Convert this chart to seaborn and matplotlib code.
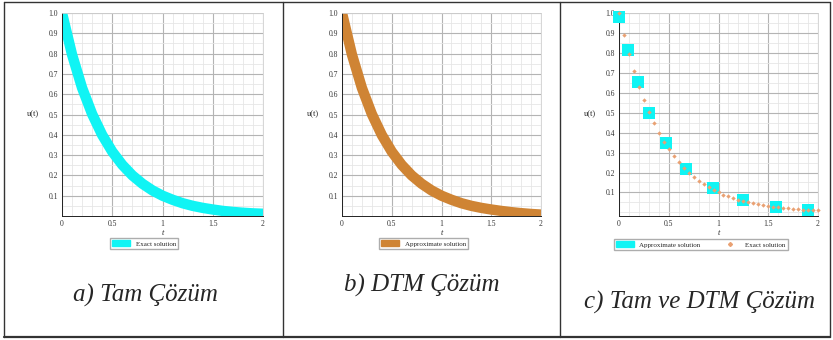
import numpy as np
import pandas as pd
import seaborn as sns
import matplotlib.pyplot as plt
from matplotlib.lines import Line2D
from matplotlib.patches import Patch
from matplotlib.ticker import MultipleLocator

sns.set_style("white")
plt.rcParams['font.family'] = ['Liberation Serif', 'DejaVu Serif']

# ---- data ----
t_curve = [0.0, 0.1, 0.2, 0.3, 0.4, 0.5, 0.6, 0.7, 0.8, 0.9, 1.0,
           1.1, 1.2, 1.3, 1.4, 1.5, 1.6, 1.7, 1.8, 1.9, 2.0]
u_exact = [1.000, 0.795, 0.631, 0.502, 0.399, 0.317, 0.252, 0.200, 0.159, 0.126, 0.100,
           0.080, 0.063, 0.050, 0.040, 0.032, 0.025, 0.020, 0.016, 0.013, 0.011]
u_approx = [1.000, 0.795, 0.631, 0.502, 0.399, 0.317, 0.252, 0.200, 0.159, 0.126, 0.100,
            0.080, 0.063, 0.050, 0.040, 0.032, 0.025, 0.019, 0.014, 0.010, 0.007]

t_dots = [0.00, 0.05, 0.10, 0.15, 0.20, 0.25, 0.30, 0.35, 0.40, 0.45, 0.50,
          0.55, 0.60, 0.65, 0.70, 0.75, 0.80, 0.85, 0.90, 0.95, 1.00,
          1.05, 1.10, 1.15, 1.20, 1.25, 1.30, 1.35, 1.40, 1.45, 1.50,
          1.55, 1.60, 1.65, 1.70, 1.75, 1.80, 1.85, 1.90, 1.95, 2.00]
u_dots = [1.000, 0.891, 0.795, 0.708, 0.631, 0.563, 0.502, 0.447, 0.399, 0.355, 0.317,
          0.282, 0.252, 0.224, 0.200, 0.178, 0.159, 0.142, 0.126, 0.113, 0.100,
          0.089, 0.080, 0.071, 0.063, 0.056, 0.050, 0.045, 0.040, 0.036, 0.032,
          0.028, 0.025, 0.022, 0.020, 0.018, 0.016, 0.014, 0.013, 0.011, 0.010]

t_marks = [0.0, 0.09, 0.19, 0.30, 0.47, 0.67, 0.94, 1.25, 1.58, 1.90]
u_marks = [0.98, 0.815, 0.653, 0.498, 0.348, 0.22, 0.12, 0.062, 0.028, 0.012]

captions = ["a) Tam Çözüm", "b) DTM Çözüm", "c) Tam ve DTM Çözüm"]
y_ticks = [0.1, 0.2, 0.3, 0.4, 0.5, 0.6, 0.7, 0.8, 0.9, 1.0]
x_ticks = [0, 0.5, 1, 1.5, 2]
x_labels = ["0", "0.5", "1", "1.5", "2"]

CYAN = "#10f4f4"
ORANGE = "#cf8434"
DOT = "#e9a173"

W, H = 833, 340
fig = plt.figure(figsize=(W / 100, H / 100), dpi=100)


def px_axes(left, right, top, bottom):
    return fig.add_axes([left / W, 1 - bottom / H, (right - left) / W, (bottom - top) / H])


def style_axes(ax, ymin=0.0):
    ax.set_xlim(0, 2)
    ax.set_ylim(ymin, 1.0)
    ax.set_xticks(x_ticks)
    ax.set_xticklabels(x_labels)
    ax.set_yticks(y_ticks)
    ax.set_yticklabels([f"{v:.1f}" for v in y_ticks])
    ax.xaxis.set_minor_locator(MultipleLocator(0.1))
    ax.yaxis.set_minor_locator(MultipleLocator(0.05))
    ax.grid(which="major", color="#b4b4b4", lw=0.8)
    ax.grid(which="minor", color="#e6e6e6", lw=0.6)
    ax.set_axisbelow(True)
    ax.tick_params(which="both", labelsize=5.5, length=2, width=0.6, direction="in",
                   pad=3, colors="#333333")
    ax.tick_params(which="minor", length=1.5)
    for s in ["left", "bottom"]:
        ax.spines[s].set_color("#222222")
        ax.spines[s].set_linewidth(0.7)
    for s in ["top", "right"]:
        ax.spines[s].set_color("#d0d0d0")
        ax.spines[s].set_linewidth(0.6)
    ax.set_xlabel("")
    ax.set_ylabel("")
    ax.text(-0.145, 0.5, "u(t)", transform=ax.transAxes, ha="center", va="center", fontsize=6)
    ax.text(0.5, -0.085, "t", transform=ax.transAxes, ha="center", va="center",
            fontsize=6, style="italic")


df_curve = pd.DataFrame({"t": t_curve, "exact": u_exact, "approx": u_approx})
df_dots = pd.DataFrame({"t": t_dots, "u": u_dots})
df_marks = pd.DataFrame({"t": t_marks, "u": u_marks})

leg_kw = dict(loc="center", fontsize=5, frameon=True, fancybox=False, edgecolor="#999999",
              borderpad=0.3, handlelength=2.6, handleheight=1.0, borderaxespad=0)

# panel a
ax1 = px_axes(62, 263, 13, 216)
sns.lineplot(data=df_curve, x="t", y="exact", ax=ax1, color=CYAN, lw=7.5, solid_capstyle="butt")
style_axes(ax1)
ax1.legend(handles=[Patch(color=CYAN, label="Exact solution")],
           bbox_to_anchor=(0.41, -0.135), **leg_kw)

# panel b
ax2 = px_axes(342, 541, 13, 216)
sns.lineplot(data=df_curve, x="t", y="approx", ax=ax2, color=ORANGE, lw=7.5, solid_capstyle="butt")
style_axes(ax2)
ax2.legend(handles=[Patch(color=ORANGE, label="Approximate solution")],
           bbox_to_anchor=(0.41, -0.135), **leg_kw)

# panel c
ax3 = px_axes(619, 818, 13, 216)
sns.scatterplot(data=df_marks, x="t", y="u", ax=ax3, color=CYAN, marker="s", s=65,
                linewidth=0, zorder=3, clip_on=False)
sns.scatterplot(data=df_dots, x="t", y="u", ax=ax3, color=DOT, marker="D", s=5,
                linewidth=0, zorder=4, clip_on=False)
style_axes(ax3, ymin=-0.018)
ax3.legend(handles=[Patch(color=CYAN, label="Approximate solution"),
                    Line2D([], [], ls="none", marker="D", ms=2, color=DOT, label="Exact solution")],
           bbox_to_anchor=(0.41, -0.14), ncol=2, columnspacing=3, **leg_kw)

# captions
fig.text(145 / W, 1 - 295 / H, captions[0], ha="center", va="center", fontsize=18, style="italic")
fig.text(422 / W, 1 - 285 / H, captions[1], ha="center", va="center", fontsize=18, style="italic")
fig.text(700 / W, 1 - 302 / H, captions[2], ha="center", va="center", fontsize=18, style="italic")

# table borders
for x in [3.5, 283, 560, 829.5]:
    fig.add_artist(Line2D([x / W, x / W], [1 - 2 / H, 1 - 337 / H], color="#333333", lw=1.0))
fig.add_artist(Line2D([3.5 / W, 829.5 / W], [1 - 2 / H, 1 - 2 / H], color="#333333", lw=1.0))
fig.add_artist(Line2D([3.5 / W, 829.5 / W], [1 - 337 / H, 1 - 337 / H], color="#333333", lw=1.6))

fig.savefig("out.png", dpi=100)
